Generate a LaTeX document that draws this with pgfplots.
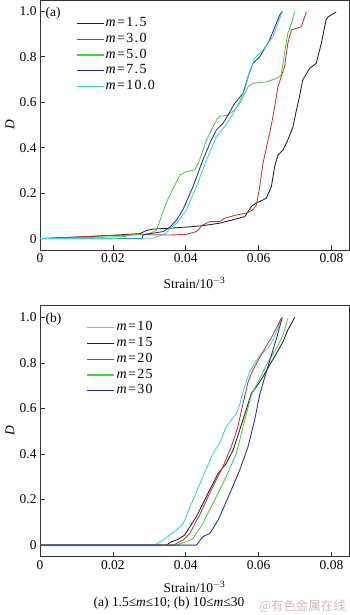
\documentclass[border=0pt]{standalone}
\usepackage{pgfplots}
\pgfplotsset{compat=1.18}
\usepackage{fontspec}
\setmainfont{Liberation Serif}
\newfontfamily\legfont[LetterSpace=10]{Liberation Serif}
\newfontfamily\cjk{Noto Sans CJK SC}
\definecolor{cK}{HTML}{1E1E1E}
\definecolor{cR}{HTML}{C83232}
\definecolor{cG}{HTML}{50C846}
\definecolor{cB}{HTML}{28289B}
\definecolor{cC}{HTML}{3CD2DC}
\pgfplotsset{
  myaxis/.style={
    scale only axis, width=309bp,
    xmin=0, xmax=0.0848,
    scaled x ticks=false, scaled y ticks=false,
    xtick={0,0.02,0.04,0.06,0.08},
    xticklabels={0,0.02,0.04,0.06,0.08},
    ytick={0,0.2,0.4,0.6,0.8,1.0},
    yticklabels={0,0.2,0.4,0.6,0.8,1.0},
    tick pos=left, tick align=inside,
    major tick length=5bp,
    axis line style={black!80, line width=0.7bp},
    every tick/.style={black!80, line width=0.7bp},
    tick label style={font=\fontsize{13.5}{15}\selectfont},
    /pgf/number format/assume math mode=true,
    label style={font=\fontsize{13.5}{15}\selectfont},
    xlabel={Strain/10\textsuperscript{$-$3}},
    ylabel={\textit{D}},
    ylabel style={at={(axis description cs:-0.097,0.5)}, anchor=center, rotate=0},
    legend cell align=left,
    legend image code/.code={\draw[#1, line width=1.2bp] (0bp,0bp) -- (27bp,0bp);},
    legend style={draw=none, fill=none, inner sep=0pt, row sep=0pt,
      font=\legfont\fontsize{14}{15}\selectfont,
      nodes={inner xsep=1.5bp, inner ysep=0pt, text height=11bp, text depth=4.8bp}},
    every axis plot/.append style={line width=0.85bp},
  }
}
\begin{document}
\begin{tikzpicture}
\path[use as bounding box] (0bp,0bp) rectangle (350bp,-615bp);
% ---------------- (a)
\begin{axis}[myaxis, at={(40bp,0bp)}, anchor=north west, height=250bp,
  ymin=-0.05, ymax=1.05,
  xlabel style={at={(axis description cs:0.5,-0.132)}, anchor=center},
  legend style={at={(axis cs:0.0098,0.983)}, anchor=north west}]
\addplot[cK] coordinates {(0,0) (0.0137,0.009) (0.0274,0.022) (0.0292,0.036) (0.031,0.042) (0.0356,0.046) (0.0411,0.052) (0.0447,0.057) (0.0493,0.068) (0.0539,0.087) (0.0562,0.097) (0.058,0.141) (0.0594,0.158) (0.0603,0.163) (0.0621,0.178) (0.0635,0.229) (0.0644,0.317) (0.0653,0.368) (0.0667,0.39) (0.068,0.434) (0.0694,0.49) (0.0703,0.56) (0.0712,0.624) (0.0721,0.698) (0.074,0.749) (0.0758,0.771) (0.0772,0.859) (0.0785,0.962) (0.079,0.975) (0.0813,0.998)};
\addlegendentry{\textit{m}=1.5}
\addplot[cR] coordinates {(0,0) (0.0164,0.012) (0.028,0.018) (0.0356,0.016) (0.0402,0.019) (0.0429,0.031) (0.0447,0.06) (0.0466,0.075) (0.0493,0.075) (0.0507,0.09) (0.0539,0.104) (0.0566,0.112) (0.0584,0.126) (0.0594,0.148) (0.0603,0.229) (0.0612,0.332) (0.0626,0.434) (0.0635,0.5) (0.0644,0.58) (0.0653,0.668) (0.0662,0.712) (0.0671,0.756) (0.068,0.859) (0.069,0.918) (0.0703,0.925) (0.0717,0.932) (0.0731,0.998)};
\addlegendentry{\textit{m}=3.0}
\addplot[cG] coordinates {(0,0) (0.0233,0.009) (0.0247,0.016) (0.0301,0.022) (0.032,0.038) (0.0333,0.097) (0.0347,0.16) (0.037,0.235) (0.0384,0.28) (0.0402,0.295) (0.0425,0.302) (0.0438,0.346) (0.0457,0.434) (0.0484,0.522) (0.0493,0.537) (0.0516,0.544) (0.0534,0.566) (0.0548,0.595) (0.0562,0.639) (0.0571,0.668) (0.0584,0.683) (0.0621,0.69) (0.0649,0.705) (0.0662,0.72) (0.0671,0.815) (0.068,0.903) (0.069,0.947) (0.0699,0.998)};
\addlegendentry{\textit{m}=5.0}
\addplot[cB] coordinates {(0,0) (0.028,0.0) (0.0283,0.016) (0.0301,0.022) (0.0338,0.031) (0.0356,0.05) (0.0375,0.082) (0.0393,0.13) (0.042,0.229) (0.0447,0.346) (0.047,0.434) (0.0484,0.478) (0.0502,0.507) (0.0516,0.544) (0.0534,0.595) (0.0557,0.639) (0.0571,0.712) (0.0584,0.771) (0.0603,0.8) (0.063,0.874) (0.0658,0.984) (0.0665,1.0)};
\addlegendentry{\textit{m}=7.5}
\addplot[cC] coordinates {(0,0) (0.031,0.002) (0.0347,0.024) (0.0356,0.046) (0.0375,0.068) (0.0402,0.126) (0.0429,0.229) (0.0457,0.346) (0.0484,0.449) (0.0507,0.493) (0.0525,0.537) (0.0543,0.588) (0.0562,0.654) (0.0575,0.734) (0.0589,0.793) (0.0612,0.83) (0.0639,0.888) (0.0665,0.998)};
\addlegendentry{\textit{m}=10.0}
\node[anchor=west, font=\fontsize{13.5}{15}\selectfont, inner sep=0pt] at (axis cs:0.0015,0.991) {(a)};
\end{axis}
% ---------------- (b)
\begin{axis}[myaxis, at={(40bp,-305bp)}, anchor=north west, height=251.7bp,
  ymin=-0.051, ymax=1.054,
  xlabel style={at={(axis description cs:0.5,-0.119)}, anchor=center},
  legend style={at={(axis cs:0.0128,0.99)}, anchor=north west}]
\addplot[cC] coordinates {(0,0) (0.0315,0) (0.0338,0.022) (0.0356,0.044) (0.0375,0.066) (0.0393,0.095) (0.042,0.198) (0.0447,0.3) (0.0475,0.403) (0.0493,0.447) (0.0511,0.52) (0.0525,0.549) (0.0539,0.578) (0.0548,0.615) (0.0557,0.673) (0.0575,0.761) (0.0603,0.834) (0.0626,0.864) (0.0639,0.9) (0.0653,0.951) (0.0662,1.0)};
\addlegendentry{\textit{m}=10}
\addplot[cK] coordinates {(0,0) (0.0347,0) (0.0361,0.015) (0.0379,0.025) (0.0397,0.044) (0.0429,0.124) (0.0461,0.227) (0.0489,0.315) (0.0511,0.358) (0.053,0.417) (0.0548,0.505) (0.0557,0.549) (0.058,0.666) (0.0594,0.695) (0.0612,0.739) (0.063,0.79) (0.0649,0.842) (0.0667,0.893) (0.068,0.944) (0.0699,1.0)};
\addlegendentry{\textit{m}=15}
\addplot[cR] coordinates {(0,0) (0.0366,0) (0.0393,0.022) (0.0411,0.051) (0.0438,0.132) (0.047,0.242) (0.0502,0.344) (0.0525,0.432) (0.0543,0.52) (0.0557,0.62) (0.0571,0.717) (0.0584,0.768) (0.0612,0.849) (0.0639,0.922) (0.0662,0.995)};
\addlegendentry{\textit{m}=20}
\addplot[cG] coordinates {(0,0) (0.0375,0) (0.0402,0.015) (0.042,0.029) (0.0447,0.095) (0.0479,0.198) (0.0511,0.3) (0.0539,0.403) (0.0562,0.549) (0.058,0.659) (0.0603,0.732) (0.0626,0.805) (0.0649,0.864) (0.0667,0.922) (0.068,0.995)};
\addlegendentry{\textit{m}=25}
\addplot[cB] coordinates {(0,0) (0.0429,0) (0.0447,0.037) (0.0466,0.051) (0.0489,0.11) (0.0521,0.227) (0.0548,0.329) (0.0571,0.432) (0.0589,0.549) (0.0603,0.66) (0.0621,0.761) (0.0635,0.834) (0.0649,0.907) (0.0665,1.0)};
\addlegendentry{\textit{m}=30}
\node[anchor=west, font=\fontsize{13.5}{15}\selectfont, inner sep=0pt] at (axis cs:0.0015,0.991) {(b)};
\end{axis}
\node[font=\fontsize{13.5}{15}\selectfont, inner sep=0pt] at (169bp,-603.5bp) {(a) 1.5≤\textit{m}≤10; (b) 10≤\textit{m}≤30};
\node[font=\cjk\fontsize{12.5}{14}\selectfont, text=red!20!gray!45, inner sep=0pt, anchor=east] at (346bp,-606bp) {@有色金属在线};
\end{tikzpicture}
\end{document}
